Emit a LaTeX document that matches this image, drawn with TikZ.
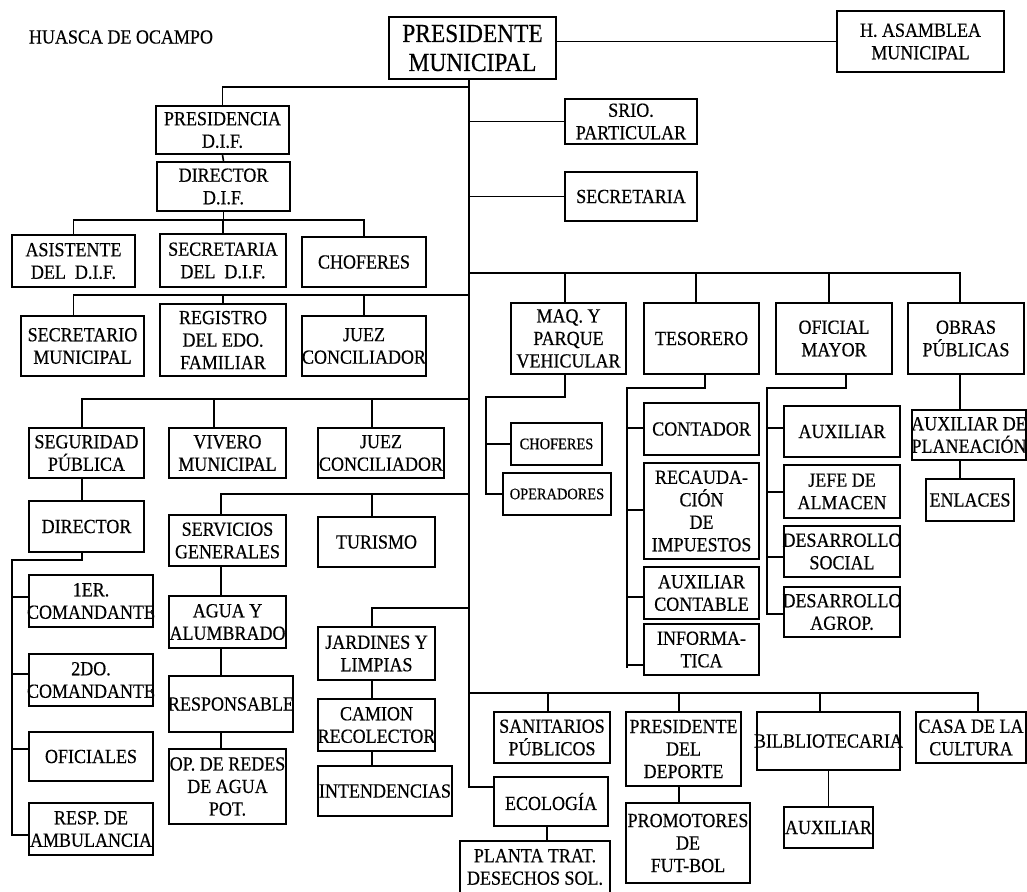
\documentclass[tikz,border=0pt]{standalone}
\usepackage{fontspec}
\setmainfont{Liberation Serif}[FakeStretch=0.9,FakeBold=0.4]
\begin{document}
\begin{tikzpicture}[x=1pt,y=-1pt,
  box/.style={draw=black,line width=1.6pt,inner sep=0pt,fill=white},
  txt/.style={align=center,inner sep=0pt,font=\fontsize{20}{22.5}\selectfont},
  bigtxt/.style={align=center,inner sep=0pt,font=\fontsize{26}{29}\selectfont},
  smalltxt/.style={align=center,inner sep=0pt,font=\fontsize{16}{19}\selectfont},
  ln/.style={draw=black,line width=1.6pt}]
\fill[white] (0,0) rectangle (1027,891);
\useasboundingbox (0,0) rectangle (1027,891);
\newcommand\bx[7][txt]{\node[box,minimum width={#5-#3},minimum height={#6-#4}] (#2) at ({(#3+#5)/2},{(#4+#6)/2}) {};
  \node[#1] at (#2.center) {#7};}
% title
\node[txt] (title) at (121,37) {HUASCA DE OCAMPO};
% boxes
\bx[bigtxt]{pm}{389}{17}{556}{79}{PRESIDENTE\\MUNICIPAL}
\bx{asam}{837}{11}{1004}{72}{H. ASAMBLEA\\MUNICIPAL}
\bx{presdif}{156}{106}{289}{154}{PRESIDENCIA\\D.I.F.}
\bx{dirdif}{157}{162}{290}{211}{DIRECTOR\\D.I.F.}
\bx{asis}{12}{235}{135}{287}{ASISTENTE\\DEL~~D.I.F.}
\bx{secdif}{160}{234}{286}{287}{SECRETARIA\\DEL~~D.I.F.}
\bx{chof}{302}{237}{426}{287}{CHOFERES}
\bx{srio}{565}{99}{697}{144}{SRIO.\\PARTICULAR}
\bx{secre}{565}{172}{697}{221}{SECRETARIA}
\bx{secmun}{21}{316}{144}{376}{SECRETARIO\\MUNICIPAL}
\bx{regis}{160}{304}{286}{376}{REGISTRO\\DEL EDO.\\FAMILIAR}
\bx{juezA}{302}{316}{426}{376}{JUEZ\\CONCILIADOR}
\bx{seg}{29}{428}{144}{478}{SEGURIDAD\\PÚBLICA}
\bx{viv}{169}{428}{286}{478}{VIVERO\\MUNICIPAL}
\bx{juezB}{318}{428}{444}{478}{JUEZ\\CONCILIADOR}
\bx{dir}{29}{501}{144}{552}{DIRECTOR}
\bx{serv}{169}{515}{286}{566}{SERVICIOS\\GENERALES}
\bx{tur}{318}{517}{435}{567}{TURISMO}
\bx{comA}{29}{575}{153}{627}{1ER.\\COMANDANTE}
\bx{comB}{29}{654}{153}{706}{2DO.\\COMANDANTE}
\bx{ofi}{29}{732}{153}{781}{OFICIALES}
\bx{amb}{29}{803}{153}{855}{RESP. DE\\AMBULANCIA}
\bx{agua}{169}{596}{286}{648}{AGUA Y\\ALUMBRADO}
\bx{resp}{169}{676}{293}{732}{RESPONSABLE}
\bx{opred}{169}{749}{286}{824}{OP. DE REDES\\DE AGUA\\POT.}
\bx{jard}{318}{627}{435}{680}{JARDINES Y\\LIMPIAS}
\bx{cam}{318}{699}{435}{751}{CAMION\\RECOLECTOR}
\bx{inten}{318}{766}{452}{816}{INTENDENCIAS}
\bx{maq}{511}{303}{626}{374}{MAQ. Y\\PARQUE\\VEHICULAR}
\bx{tes}{644}{303}{759}{374}{TESORERO}
\bx{ofm}{776}{303}{892}{374}{OFICIAL\\MAYOR}
\bx{obras}{908}{303}{1024}{374}{OBRAS\\PÚBLICAS}
\bx[smalltxt]{chofB}{511}{423}{602}{465}{CHOFERES}
\bx[smalltxt]{oper}{503}{473}{611}{515}{OPERADORES}
\bx{cont}{644}{403}{759}{455}{CONTADOR}
\bx{recau}{644}{463}{759}{559}{RECAUDA-\\CIÓN\\DE\\IMPUESTOS}
\bx{auxc}{644}{567}{759}{619}{AUXILIAR\\CONTABLE}
\bx{infor}{644}{624}{759}{675}{INFORMA-\\TICA}
\bx{auxA}{784}{406}{900}{457}{AUXILIAR}
\bx{jefe}{784}{465}{900}{518}{JEFE DE\\ALMACEN}
\bx{dsoc}{784}{526}{900}{577}{DESARROLLO\\SOCIAL}
\bx{dagr}{784}{587}{900}{637}{DESARROLLO\\AGROP.}
\bx{auxp}{912}{410}{1026}{460}{AUXILIAR DE\\PLANEACIÓN}
\bx{enl}{926}{479}{1014}{521}{ENLACES}
\bx{sani}{494}{712}{610}{763}{SANITARIOS\\PÚBLICOS}
\bx{pdep}{626}{712}{741}{786}{PRESIDENTE\\DEL\\DEPORTE}
\bx{bib}{757}{712}{900}{770}{BILBLIOTECARIA}
\bx{casa}{916}{712}{1026}{763}{CASA DE LA\\CULTURA}
\bx{eco}{494}{777}{608}{826}{ECOLOGÍA}
\bx{planta}{460}{841}{610}{893}{PLANTA TRAT.\\DESECHOS SOL.}
\bx{promo}{626}{803}{750}{883}{PROMOTORES\\DE\\FUT-BOL}
\bx{auxB}{784}{807}{873}{848}{AUXILIAR}
% bus coordinates
\coordinate (trk) at (469,0);
\coordinate (bA) at (469,87);
\coordinate (bDif) at (222,220);
\coordinate (bB) at (469,295);
\coordinate (bC) at (469,399);
\coordinate (bD) at (469,494);
\coordinate (bE) at (469,608);
\coordinate (bTop) at (469,273);
\coordinate (bBot) at (469,693);
\coordinate (bEco) at (469,787);
\coordinate (lft) at (12,560);
\coordinate (mq) at (486,397);
\coordinate (ts) at (627,388);
\coordinate (om) at (767,388);
% connectors
\draw[ln] (pm.east |- asam.west) -- (asam.west);
\draw[ln] (pm.south -| trk) -- (bEco) -- (bEco -| eco.west);
\draw[ln] (presdif.north) |- (bA);
\draw[ln] (presdif.south) -- (dirdif.north);
\draw[ln] (dirdif.south) -- (dirdif.south |- bDif);
\draw[ln] (asis.north) |- (bDif) -| (chof.north);
\draw[ln] (secdif.north) -- (secdif.north |- bDif);
\draw[ln] (srio.west) -- (srio.west -| trk);
\draw[ln] (secre.west) -- (secre.west -| trk);
% row 3
\draw[ln] (bB) -| (secmun.north -| asis.south);
\draw[ln] (regis.north) -- (regis.north |- bB);
\draw[ln] (juezA.north) -- (juezA.north |- bB);
% row 4
\draw[ln] (bC) -| ([xshift=-4.5]seg.north);
\draw[ln] ([xshift=-13.5]viv.north) -- ([xshift=-13.5]viv.north |- bC);
\draw[ln] ([xshift=-9]juezB.north) -- ([xshift=-9]juezB.north |- bC);
\draw[ln] ([xshift=-4.5]seg.south) -- ([xshift=-4.5]dir.north);
\draw[ln] ([xshift=-4.5]dir.south) |- (lft) -- (lft |- 0,835) -- (amb.west |- 0,835);
\draw[ln] (lft |- 0,597) -- (comA.west |- 0,597);
\draw[ln] (lft |- 0,674) -- (comB.west |- 0,674);
\draw[ln] (lft |- 0,749) -- (ofi.west |- 0,749);
% row 5
\draw[ln] (bD) -| ([xshift=-6.5]serv.north);
\draw[ln] ([xshift=-4.5]tur.north) -- ([xshift=-4.5]tur.north |- bD);
\draw[ln] ([xshift=-6.5]serv.south) -- ([xshift=-6.5]agua.north);
\draw[ln] ([xshift=-6.5]agua.south) -- ([xshift=-10]resp.north);
\draw[ln] ([xshift=-10]resp.south) -- ([xshift=-6.5]opred.north);
\draw[ln] (bE) -| ([xshift=-4.5]jard.north);
\draw[ln] ([xshift=-4.5]jard.south) -- ([xshift=-4.5]cam.north);
\draw[ln] ([xshift=-4.5]cam.south) -- ([xshift=-13]inten.north);
% top right bus
\draw[ln] (bTop) -| ([xshift=-6]obras.north);
\draw[ln] ([xshift=-3.5]maq.north) -- ([xshift=-3.5]maq.north |- bTop);
\draw[ln] ([xshift=-5.5]tes.north) -- ([xshift=-5.5]tes.north |- bTop);
\draw[ln] ([xshift=-5]ofm.north) -- ([xshift=-5]ofm.north |- bTop);
% maq
\draw[ln] ([xshift=-3.5]maq.south) |- (mq) |- (oper.west);
\draw[ln] (chofB.west) -- (chofB.west -| mq);
% tesorero
\draw[ln] (705,374) |- (ts) -- (ts |- 0,668);
\draw[ln] (ts |- 0,428) -- (cont.west |- 0,428);
\draw[ln] (ts |- 0,510) -- (recau.west |- 0,510);
\draw[ln] (ts |- 0,597) -- (auxc.west |- 0,597);
\draw[ln] (ts |- 0,665) -- (infor.west |- 0,665);
% oficial mayor
\draw[ln] (846,374) |- (om) -- (om |- 0,614) -- (dagr.west |- 0,614);
\draw[ln] (om |- 0,428) -- (auxA.west |- 0,428);
\draw[ln] (om |- 0,492) -- (jefe.west |- 0,492);
\draw[ln] (om |- 0,557) -- (dsoc.west |- 0,557);
% obras
\draw[ln] ([xshift=-6]obras.south) -- ([xshift=-6]obras.south |- auxp.north);
\draw[ln] ([xshift=-6]obras.south |- auxp.south) -- ([xshift=-6]obras.south |- enl.north);
% bottom bus
\draw[ln] (bBot) -| ([xshift=7]casa.north);
\draw[ln] ([xshift=-4]sani.north) -- ([xshift=-4]sani.north |- bBot);
\draw[ln] ([xshift=-4.5]pdep.north) -- ([xshift=-4.5]pdep.north |- bBot);
\draw[ln] ([xshift=-8.5]bib.north) -- ([xshift=-8.5]bib.north |- bBot);
\draw[ln] ([xshift=-4]eco.south) -- ([xshift=-4]eco.south |- planta.north);
\draw[ln] ([xshift=-4.5]pdep.south) -- ([xshift=-4.5]pdep.south |- promo.north);
\draw[ln] (auxB.north |- bib.south) -- (auxB.north);
\end{tikzpicture}
\end{document}
